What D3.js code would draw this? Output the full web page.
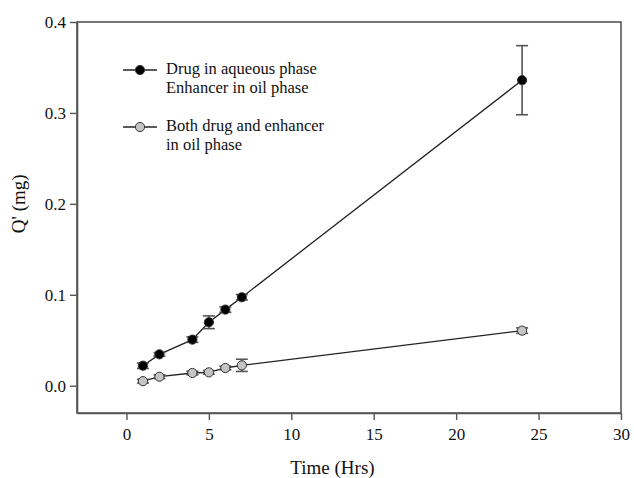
<!DOCTYPE html>
<html>
<head>
<meta charset="utf-8">
<script src="https://cdn.jsdelivr.net/npm/d3@7"></script>
<style>
  html, body { margin: 0; padding: 0; background: #fff; }
  svg { display: block; }
  text { font-family: "Liberation Serif", "Times New Roman", serif; fill: #111; }
</style>
</head>
<body>
<svg id="chart" width="634" height="478"></svg>
<script>
// Sampling times (hours)
const times = [1, 2, 4, 5, 6, 7, 24];

// Cumulative amount permeated, Q' (mg), mean and error
const aqueousMean = [0.022, 0.0345, 0.0507, 0.0698, 0.0837, 0.0973, 0.336];
const aqueousErr  = [0.003, 0.002, 0.003, 0.007, 0.003, 0.003, 0.038];
const oilMean = [0.0050, 0.0099, 0.0140, 0.0147, 0.0195, 0.0224, 0.0606];
const oilErr  = [0.002, 0.002, 0.002, 0.002, 0.002, 0.0067, 0.003];

const seriesNames = [
  ["Drug in aqueous phase", "Enhancer in oil phase"],
  ["Both drug and enhancer", "in oil phase"]
];
const seriesFill = ["#000000", "#c4c4c4"];

const xTicks = [0, 5, 10, 15, 20, 25, 30];
const yTicks = [0.0, 0.1, 0.2, 0.3, 0.4];

const svg = d3.select("#chart");
const margin = { left: 77, right: 13, top: 22, bottom: 65 };
const W = 634, H = 478;

const x = d3.scaleLinear().domain([-3, 30]).range([margin.left, W - margin.right]);
const y = d3.scaleLinear().domain([-0.03, 0.4]).range([H - margin.bottom, margin.top]);

const axisColor = "#555";

// Frame
svg.append("rect")
  .attr("x", x.range()[0]).attr("y", y.range()[1])
  .attr("width", x.range()[1] - x.range()[0])
  .attr("height", y.range()[0] - y.range()[1])
  .attr("fill", "none").attr("stroke", axisColor).attr("stroke-width", 1.6);

// Axes
const xAxis = svg.append("g")
  .attr("transform", `translate(0,${y.range()[0]})`)
  .call(d3.axisBottom(x).tickValues(xTicks).tickFormat(d3.format("d"))
    .tickSizeInner(7).tickSizeOuter(0).tickPadding(8));
const yAxis = svg.append("g")
  .attr("transform", `translate(${x.range()[0]},0)`)
  .call(d3.axisLeft(y).tickValues(yTicks).tickFormat(d3.format(".1f"))
    .tickSizeInner(7).tickSizeOuter(0).tickPadding(4));

[xAxis, yAxis].forEach(g => {
  g.select(".domain").attr("stroke", axisColor).attr("stroke-width", 1.6);
  g.selectAll(".tick line").attr("stroke", axisColor).attr("stroke-width", 1.4);
  g.selectAll(".tick text")
    .attr("font-family", "Liberation Serif, Times New Roman, serif")
    .attr("font-size", 17).attr("fill", "#111");
});

// Axis titles
svg.append("text")
  .attr("x", x(12.5)).attr("y", 474)
  .attr("text-anchor", "middle").attr("font-size", 19)
  .text("Time (Hrs)");
svg.append("text")
  .attr("transform", `translate(25,${y(0.2)}) rotate(-90)`)
  .attr("text-anchor", "middle").attr("font-size", 19)
  .text("Q' (mg)");

const series = [
  { mean: aqueousMean, err: aqueousErr, fill: seriesFill[0] },
  { mean: oilMean, err: oilErr, fill: seriesFill[1] }
];

const line = d3.line().x(d => x(d.t)).y(d => y(d.v));

series.forEach(s => {
  const pts = times.map((t, i) => ({ t, v: s.mean[i], e: s.err[i] }));
  const g = svg.append("g");

  g.append("path").datum(pts)
    .attr("d", line).attr("fill", "none")
    .attr("stroke", "#222").attr("stroke-width", 1.3);

  // Error bars with caps
  const eb = g.selectAll(".eb").data(pts).enter().append("g");
  eb.append("line")
    .attr("x1", d => x(d.t)).attr("x2", d => x(d.t))
    .attr("y1", d => y(d.v - d.e)).attr("y2", d => y(d.v + d.e))
    .attr("stroke", "#555").attr("stroke-width", 1.6);
  [-1, 1].forEach(sign => {
    eb.append("line")
      .attr("x1", d => x(d.t) - 6).attr("x2", d => x(d.t) + 6)
      .attr("y1", d => y(d.v + sign * d.e)).attr("y2", d => y(d.v + sign * d.e))
      .attr("stroke", "#555").attr("stroke-width", 1.6);
  });

  g.selectAll("circle").data(pts).enter().append("circle")
    .attr("cx", d => x(d.t)).attr("cy", d => y(d.v)).attr("r", 4.6)
    .attr("fill", s.fill).attr("stroke", "#333").attr("stroke-width", 1);
});

// Legend: marker line plus a two-line label per series
const legendY = [70, 127];
seriesNames.forEach((lines, i) => {
  const ly = legendY[i];
  svg.append("line")
    .attr("x1", 123).attr("x2", 157).attr("y1", ly).attr("y2", ly)
    .attr("stroke", "#222").attr("stroke-width", 1.3);
  svg.append("circle")
    .attr("cx", 140).attr("cy", ly).attr("r", 4.6)
    .attr("fill", seriesFill[i]).attr("stroke", "#333").attr("stroke-width", 1);
  lines.forEach((txt, j) => {
    svg.append("text")
      .attr("x", 166).attr("y", ly + 3.5 + j * 19)
      .attr("font-size", 16.5)
      .text(txt);
  });
});
</script>
</body>
</html>
